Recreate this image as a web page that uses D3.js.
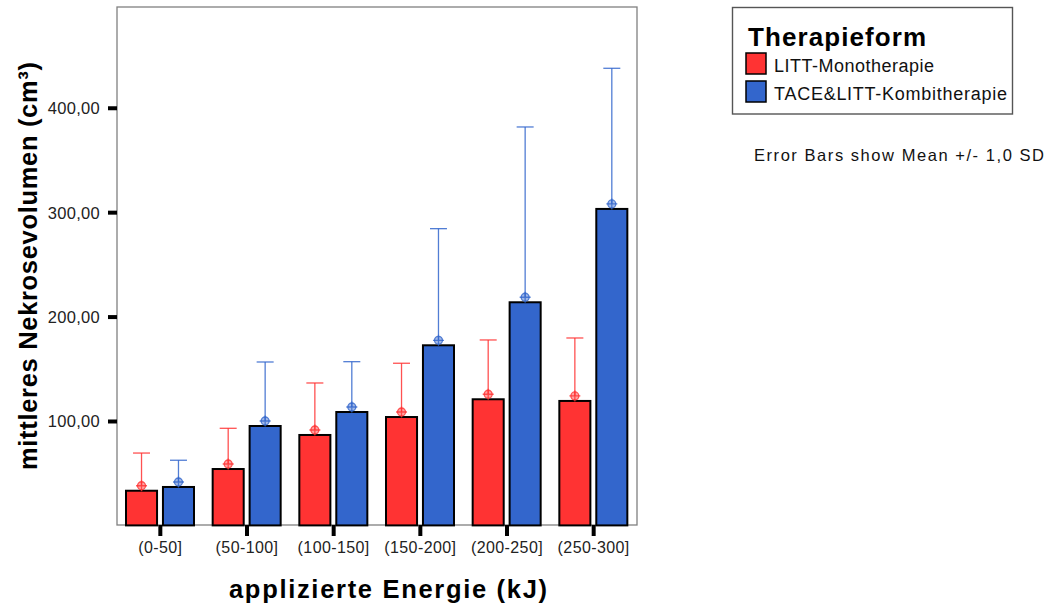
<!DOCTYPE html>
<html>
<head>
<meta charset="utf-8">
<script src="https://cdn.jsdelivr.net/npm/d3@7"></script>
<style>
  html, body { margin: 0; padding: 0; background: #fff; }
  svg { display: block; font-family: "Liberation Sans", Arial, sans-serif; }
</style>
</head>
<body>
<svg id="chart" width="1048" height="609"></svg>
<script>
// Energy classes (kJ) on the x axis
const categories = ["(0-50]", "(50-100]", "(100-150]", "(150-200]", "(200-250]", "(250-300]"];
const seriesNames = ["LITT-Monotherapie", "TACE&LITT-Kombitherapie"];
const seriesColors = ["#ff3333", "#3366cc"];

// Mean necrosis volume (cm³) per energy class
const monoMean   = [33.2, 54.0, 86.6, 103.8, 120.8, 119.2];
const kombiMean  = [36.8, 95.2, 108.6, 172.5, 213.7, 303.1];
// Standard deviation per energy class
const monoSD     = [36.1, 39.0, 49.8, 51.5, 56.8, 60.3];
const kombiSD    = [25.6, 61.3, 48.2, 111.7, 167.9, 134.7];

const yTicks = [100, 200, 300, 400];

const svg = d3.select("#chart");
const plot = { left: 117, right: 637, top: 7, bottom: 525.4 };

const x0 = d3.scaleBand().domain(categories).range([plot.left, plot.right]).padding(0);
const x1 = d3.scaleBand().domain(seriesNames).range([9, 77]).paddingInner(0.16);
const y = d3.scaleLinear().domain([0, 496.5]).range([plot.bottom, plot.top]);

const deFormat = d3.formatLocale({ decimal: ",", thousands: ".", grouping: [3], currency: ["", " €"] }).format(".2f");

// plot frame
svg.append("rect")
  .attr("x", plot.left).attr("y", plot.top)
  .attr("width", plot.right - plot.left).attr("height", 525 - plot.top)
  .attr("fill", "none").attr("stroke", "#808080").attr("stroke-width", 1.3);

// y axis
const yAxis = svg.append("g")
  .attr("transform", `translate(${plot.left},0)`)
  .call(d3.axisLeft(y).tickValues(yTicks).tickSize(9).tickPadding(8).tickFormat(deFormat));
yAxis.select(".domain").remove();
yAxis.selectAll(".tick line").attr("stroke", "#000").attr("stroke-width", 4);
yAxis.selectAll(".tick text")
  .attr("font-size", 16.5).attr("fill", "#222").attr("dy", "0.36em").attr("letter-spacing", 0.3)
  .style("font-family", "'Liberation Sans', Arial, sans-serif");

// x axis
const xAxis = svg.append("g")
  .attr("transform", `translate(0,525)`)
  .call(d3.axisBottom(x0).tickSize(11));
xAxis.select(".domain").remove();
xAxis.selectAll(".tick line").attr("stroke", "#000").attr("stroke-width", 4);
xAxis.selectAll(".tick text")
  .attr("y", 28).attr("dy", 0)
  .attr("font-size", 16).attr("fill", "#222").attr("letter-spacing", 0.4)
  .style("font-family", "'Liberation Sans', Arial, sans-serif");

// rows: one record per bar
const rows = [];
categories.forEach((c, i) => {
  rows.push({ cat: c, s: seriesNames[0], mean: monoMean[i], sd: monoSD[i], color: seriesColors[0] });
  rows.push({ cat: c, s: seriesNames[1], mean: kombiMean[i], sd: kombiSD[i], color: seriesColors[1] });
});
const cx = d => x0(d.cat) + x1(d.s) + x1.bandwidth() / 2;

// error bars (mean to mean + 1 SD)
const eb = svg.append("g").selectAll("g").data(rows).join("g")
  .attr("stroke", d => d.color).attr("stroke-opacity", 0.85).attr("stroke-width", 1.3);
eb.append("line")
  .attr("x1", cx).attr("x2", cx)
  .attr("y1", d => y(d.mean) - 5).attr("y2", d => y(d.mean + d.sd));
eb.append("line")
  .attr("x1", d => cx(d) - 8.5).attr("x2", d => cx(d) + 8.5)
  .attr("y1", d => y(d.mean + d.sd)).attr("y2", d => y(d.mean + d.sd));

// bars
svg.append("g").selectAll("rect").data(rows).join("rect")
  .attr("x", d => x0(d.cat) + x1(d.s))
  .attr("y", d => y(d.mean))
  .attr("width", x1.bandwidth())
  .attr("height", d => y(0) - y(d.mean))
  .attr("fill", d => d.color)
  .attr("stroke", "#000").attr("stroke-width", 2);

// mean markers
const mk = svg.append("g").selectAll("g").data(rows).join("g")
  .attr("transform", d => `translate(${cx(d)},${y(d.mean) - 5})`)
  .attr("stroke", d => d.color).attr("stroke-opacity", 0.8).attr("stroke-width", 1.3);
mk.append("circle").attr("r", 4).attr("fill", d => d.color).attr("fill-opacity", 0.45);
mk.append("path").attr("d", "M-5.5,0H5.5M0,-5.5V5.5").attr("fill", "none");

// axis titles
svg.append("text")
  .attr("transform", "translate(36.5,266) rotate(-90)")
  .attr("text-anchor", "middle")
  .attr("font-size", 25.5).attr("font-weight", "bold")
  .attr("textLength", 408).attr("lengthAdjust", "spacing")
  .text("mittleres Nekrosevolumen (cm³)");

svg.append("text")
  .attr("x", 388).attr("y", 598)
  .attr("text-anchor", "middle")
  .attr("font-size", 25.5).attr("font-weight", "bold")
  .attr("textLength", 318).attr("lengthAdjust", "spacing")
  .text("applizierte Energie (kJ)");

// legend
const lg = svg.append("g");
lg.append("rect")
  .attr("x", 732.5).attr("y", 7.5).attr("width", 280).attr("height", 106.5)
  .attr("fill", "#fff").attr("stroke", "#555").attr("stroke-width", 1.4);
lg.append("text")
  .attr("x", 748).attr("y", 46)
  .attr("font-size", 26).attr("font-weight", "bold")
  .attr("textLength", 178).attr("lengthAdjust", "spacing")
  .text("Therapieform");
const legendBaselines = [72, 100];
const legendLengths = [160, 233];
seriesNames.forEach((name, i) => {
  lg.append("rect")
    .attr("x", 746).attr("y", legendBaselines[i] - 19)
    .attr("width", 20).attr("height", 21)
    .attr("fill", seriesColors[i]).attr("stroke", "#000").attr("stroke-width", 1.5);
  lg.append("text")
    .attr("x", 774).attr("y", legendBaselines[i])
    .attr("font-size", 18).attr("fill", "#111")
    .attr("textLength", legendLengths[i]).attr("lengthAdjust", "spacing")
    .text(name);
});

svg.append("text")
  .attr("x", 754).attr("y", 161)
  .attr("font-size", 16.5).attr("fill", "#111")
  .attr("textLength", 290).attr("lengthAdjust", "spacing")
  .text("Error Bars show Mean +/- 1,0 SD");
</script>
</body>
</html>
